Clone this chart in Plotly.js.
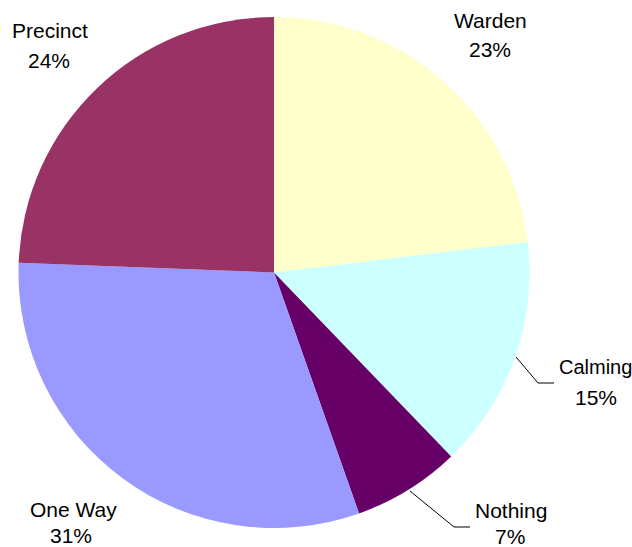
<!DOCTYPE html>
<html>
<head>
<meta charset="utf-8">
<script src="https://cdn.plot.ly/plotly-3.0.1.min.js"></script>
<style>html,body{margin:0;padding:0;background:#fff;}#chart{width:632px;height:547px;}</style>
</head>
<body>
<div id="chart"></div>
<script>
// Data
var categories = ["Warden", "Calming", "Nothing", "One Way", "Precinct"];
var values = [23.1, 14.7, 6.8, 31.0, 24.4];
var colors = ["#FFFFCC", "#CCFFFF", "#660066", "#9999FF", "#993366"];

// Layout helpers (pixel positions of the outside labels and leader lines)
var W = 632, H = 547;
var labelPos = {
  "Warden":   {name: [490, 20],  pct: [490, 50], size: 21},
  "Calming":  {name: [595, 367], pct: [596, 397], size: 20},
  "Nothing":  {name: [511, 510], pct: [510, 536], size: 21},
  "One Way":  {name: [73, 509],  pct: [71, 535], size: 21},
  "Precinct": {name: [50, 30],   pct: [49, 60], size: 21}
};
var leaders = {
  "Calming": [[516, 357], [538, 383], [554, 383]],
  "Nothing": [[410, 491], [454, 527], [470, 527]]
};

function px(x) { return x / W; }
function py(y) { return 1 - y / H; }

var total = values.reduce(function (a, b) { return a + b; }, 0);
var annotations = [];
categories.forEach(function (c, i) {
  var p = labelPos[c];
  var font = {family: "Liberation Sans, Arial, sans-serif", size: p.size, color: "#000"};
  var pctFont = {family: "Liberation Sans, Arial, sans-serif", size: 21, color: "#000"};
  var pct = Math.round(values[i] / total * 100) + "%";
  annotations.push({xref: "paper", yref: "paper", x: px(p.name[0]), y: py(p.name[1]),
    xanchor: "center", yanchor: "middle", text: c, showarrow: false, font: font});
  annotations.push({xref: "paper", yref: "paper", x: px(p.pct[0]), y: py(p.pct[1]),
    xanchor: "center", yanchor: "middle", text: pct, showarrow: false, font: pctFont});
});

var shapes = [];
Object.keys(leaders).forEach(function (k) {
  var pts = leaders[k];
  var path = pts.map(function (pt, j) {
    return (j === 0 ? "M " : "L ") + px(pt[0]) + " " + py(pt[1]);
  }).join(" ");
  shapes.push({type: "path", xref: "paper", yref: "paper", path: path,
    line: {color: "#000", width: 1}});
});

var trace = {
  type: "pie",
  labels: categories,
  values: values,
  sort: false,
  direction: "clockwise",
  rotation: 0,
  marker: {colors: colors, line: {width: 0}},
  textinfo: "none",
  hoverinfo: "label+percent",
  showlegend: false,
  domain: {x: [18 / W, 530 / W], y: [1 - 528 / H, 1 - 17 / H]}
};

var layout = {
  width: W, height: H,
  margin: {l: 0, r: 0, t: 0, b: 0},
  paper_bgcolor: "#fff",
  showlegend: false,
  annotations: annotations,
  shapes: shapes
};

Plotly.newPlot("chart", [trace], layout, {staticPlot: true, displayModeBar: false});
</script>
</body>
</html>
